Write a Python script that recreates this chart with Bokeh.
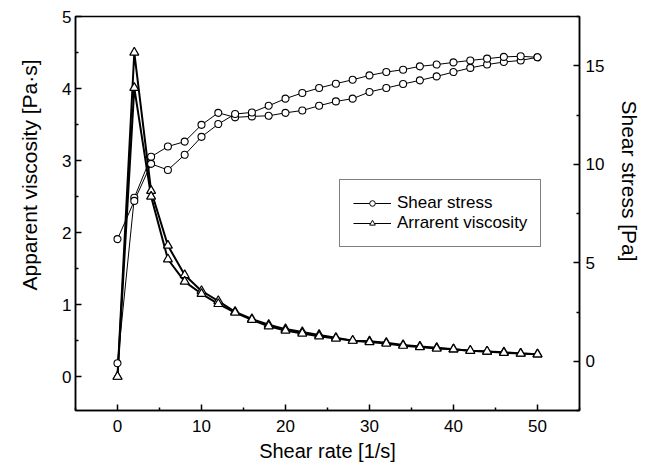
from bokeh.plotting import figure
from bokeh.models import Range1d, LinearAxis, FixedTicker, Legend, LegendItem, Title
from bokeh.embed import file_html
from bokeh.resources import INLINE

# ---- data ----
shear_rate = [0, 2, 4, 6, 8, 10, 12, 14, 16, 18, 20, 22, 24, 26, 28, 30,
              32, 34, 36, 38, 40, 42, 44, 46, 48, 50]

stress_a = [-0.1, 8.3, 10.38, 10.9, 11.15, 12.0, 12.61, 12.38, 12.43, 12.46,
            12.61, 12.73, 12.97, 13.19, 13.33, 13.67, 13.87, 14.07, 14.26,
            14.46, 14.68, 14.89, 15.06, 15.19, 15.27, 15.43]
stress_b = [6.2, 8.14, 10.02, 9.71, 10.48, 11.39, 12.04, 12.55, 12.63, 12.97,
            13.33, 13.62, 13.87, 14.09, 14.29, 14.51, 14.68, 14.80, 14.97,
            15.06, 15.17, 15.27, 15.36, 15.45, 15.48, 15.43]

visc_a = [0, 4.5, 2.58, 1.82, 1.41, 1.19, 1.05, 0.90, 0.80, 0.72, 0.66, 0.62,
          0.58, 0.54, 0.50, 0.49, 0.47, 0.44, 0.42, 0.40, 0.38, 0.36, 0.35,
          0.34, 0.32, 0.31]
visc_b = [0, 4.01, 2.50, 1.63, 1.32, 1.15, 1.01, 0.89, 0.79, 0.70, 0.64, 0.60,
          0.56, 0.53, 0.50, 0.48, 0.46, 0.43, 0.41, 0.39, 0.38, 0.36, 0.35,
          0.33, 0.32, 0.31]

x_ticks = [0, 10, 20, 30, 40, 50]
x_minor = [-5, 5, 15, 25, 35, 45, 55]
left_ticks = [0, 1, 2, 3, 4, 5]
left_minor = [-0.5, 0.5, 1.5, 2.5, 3.5, 4.5]
right_ticks = [0, 5, 10, 15]
right_minor = [-2.5, 2.5, 7.5, 12.5, 17.5]

x_title = "Shear rate [1/s]"
left_title = "Apparent viscosity [Pa\u00b7s]"
right_title = "Shear stress [Pa]"

FONT = "Liberation Sans"

p = figure(width=652, height=466, x_range=Range1d(-5, 55),
           y_range=Range1d(-0.47, 5), output_backend="svg",
           toolbar_location=None, min_border_left=74, min_border_right=72,
           min_border_top=16, min_border_bottom=56)
p.extra_y_ranges = {"stress": Range1d(-2.5, 17.5)}
p.grid.visible = False
p.outline_line_color = "black"
p.outline_line_width = 1.5
p.background_fill_color = "white"
p.border_fill_color = "white"


def style_axis(ax, ticks, minor, standoff):
    ax.ticker = FixedTicker(ticks=ticks, minor_ticks=minor)
    ax.axis_line_color = "black"
    ax.axis_line_width = 1.5
    ax.major_tick_line_color = "black"
    ax.major_tick_line_width = 1.5
    ax.minor_tick_line_color = "black"
    ax.minor_tick_line_width = 1.5
    ax.major_tick_in = 6
    ax.major_tick_out = 0
    ax.minor_tick_in = 3
    ax.minor_tick_out = 0
    ax.major_label_text_font = FONT
    ax.major_label_text_font_size = "17px"
    ax.major_label_text_color = "black"
    ax.major_label_standoff = standoff


style_axis(p.xaxis[0], x_ticks, x_minor, 9)
p.xaxis[0].axis_label = x_title
p.xaxis[0].axis_label_text_font = FONT
p.xaxis[0].axis_label_text_font_size = "20px"
p.xaxis[0].axis_label_text_font_style = "normal"
p.xaxis[0].axis_label_text_color = "black"
p.xaxis[0].axis_label_standoff = 5

style_axis(p.yaxis[0], left_ticks, left_minor, 4)

right_axis = LinearAxis(y_range_name="stress")
style_axis(right_axis, right_ticks, right_minor, 6)
p.add_layout(right_axis, "right")

# vertical axis titles, placed off-centre as in the reference
p.add_layout(Title(text=left_title, align="left", offset=120, standoff=34,
                   vertical_align="top",
                   text_font=FONT, text_font_size="21px", text_font_style="normal",
                   text_color="black"), "left")
p.add_layout(Title(text=right_title, align="left", offset=84, standoff=20,
                   text_font=FONT, text_font_size="21px", text_font_style="normal",
                   text_color="black"), "right")

# viscosity (left axis)
p.line(shear_rate, visc_a, line_width=2, color="black")
p.line(shear_rate, visc_b, line_width=2, color="black")
p.scatter(shear_rate, visc_a, marker="triangle", size=9, fill_color="white",
          line_color="black", line_width=1.2)
p.scatter(shear_rate, visc_b, marker="triangle", size=9, fill_color="white",
          line_color="black", line_width=1.2)

# shear stress (right axis)
ls_a = p.line(shear_rate, stress_a, y_range_name="stress", line_width=1, color="black")
p.line(shear_rate, stress_b, y_range_name="stress", line_width=1, color="black")
p.scatter(shear_rate, stress_a, y_range_name="stress", marker="circle", size=7,
          fill_color="white", line_color="black", line_width=1.1)
p.scatter(shear_rate, stress_b, y_range_name="stress", marker="circle", size=7,
          fill_color="white", line_color="black", line_width=1.1)

# legend helpers (hidden in plot)
leg_circ = p.scatter(shear_rate, stress_a, y_range_name="stress", marker="circle",
                     size=4, fill_color="white", line_color="black", line_width=1,
                     visible=False)
leg_vline = p.line(shear_rate, visc_a, line_width=1, color="black", visible=False)
leg_tri = p.scatter(shear_rate, visc_a, marker="triangle", size=5,
                    fill_color="white", line_color="black", line_width=1,
                    visible=False)

legend = Legend(items=[
    LegendItem(label="Shear stress", renderers=[ls_a, leg_circ]),
    LegendItem(label="Arrarent viscosity", renderers=[leg_vline, leg_tri]),
], location=(264, 163))
legend.label_text_font = FONT
legend.label_text_font_size = "17px"
legend.label_text_color = "black"
legend.padding = 13
legend.spacing = 0
legend.margin = 0
legend.label_height = 14
legend.glyph_height = 14
legend.glyph_width = 38
legend.label_standoff = 6
legend.border_line_color = "black"
legend.border_line_width = 1.2
legend.background_fill_color = "white"
legend.background_fill_alpha = 1
p.add_layout(legend)

open("out.html", "w").write(file_html(p, INLINE))
